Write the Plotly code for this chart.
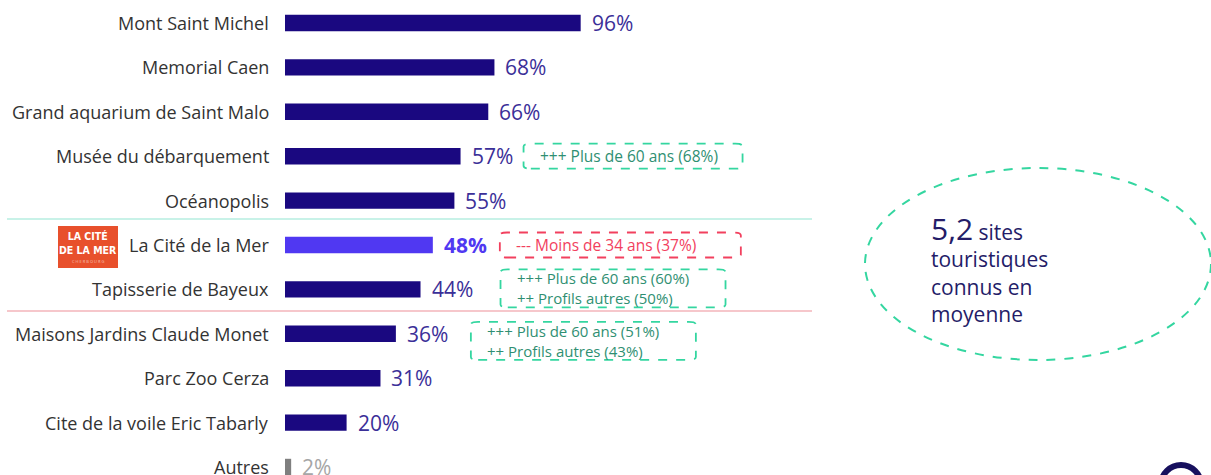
import plotly.graph_objects as go

# data, top to bottom
sites = ["Mont Saint Michel", "Memorial Caen", "Grand aquarium de Saint Malo",
         "Musée du débarquement", "Océanopolis", "La Cité de la Mer",
         "Tapisserie de Bayeux", "Maisons Jardins Claude Monet", "Parc Zoo Cerza",
         "Cite de la voile Eric Tabarly", "Autres"]
scores = [96, 68, 66, 57, 55, 48, 44, 36, 31, 20, 2]
highlight = "La Cité de la Mer"
others = "Autres"

# callouts next to some bars
callout_site = ["Musée du débarquement", "La Cité de la Mer",
                "Tapisserie de Bayeux", "Maisons Jardins Claude Monet"]
callout_text = ["+++ Plus de 60 ans (68%)", "--- Moins de 34 ans (37%)",
                "+++ Plus de 60 ans (60%)<br>++ Profils autres (50%)",
                "+++ Plus de 60 ans (51%)<br>++ Profils autres (43%)"]
callout_kind = ["up", "down", "up", "up"]

avg_sites = "5,2"

NAVY = "#1a0880"
HL = "#5038f2"
GREEN = "#34d6a0"
RED = "#f2405e"
FONT = "Open Sans"

bar_colors = [HL if s == highlight else ("#7f7f7f" if s == others else NAVY) for s in sites]
txt_colors = [HL if s == highlight else ("#a6a6a6" if s == others else "#3b2f98") for s in sites]

fig = go.Figure()
fig.add_trace(go.Bar(
    x=scores, y=sites, orientation="h",
    marker=dict(color=bar_colors, line=dict(width=0)),
    width=0.37, hoverinfo="skip",
))

# category labels left of the bars, value labels right of them
for s, v, c in zip(sites, scores, txt_colors):
    fig.add_annotation(x=0, y=s, text=s, xanchor="right", showarrow=False,
                       xshift=-14, font=dict(family=FONT, size=18, color="#333333"))
    lab = f"<b>{v}%</b>" if s == highlight else f"{v}%"
    fig.add_annotation(x=v, y=s, text=lab, xanchor="left", showarrow=False,
                       xshift=9, font=dict(family=FONT, size=21, color=c))

px = 3.08  # px per percent
W, H = 1211, 475

def rounded_box(x0, x1, y0, y1, r):
    return (f"M {x0+r},{y0} L {x1-r},{y0} Q {x1},{y0} {x1},{y0+r} "
            f"L {x1},{y1-r} Q {x1},{y1} {x1-r},{y1} L {x0+r},{y1} "
            f"Q {x0},{y1} {x0},{y1-r} L {x0},{y0+r} Q {x0},{y0} {x0+r},{y0} Z")

# placement of each callout box: gap after bar end, box width, vertical shift (px)
box_gap = [63, 67, 80, 75]
box_w = [219, 241, 225, 225]
box_dy = [0, 0, -1, 7]

for j, (s, t, k) in enumerate(zip(callout_site, callout_text, callout_kind)):
    i = sites.index(s)
    v = scores[i]
    two = "<br>" in t
    col = GREEN if k == "up" else RED
    tcol = "#2f8f72" if k == "up" else RED
    left = 285 + v * px + box_gap[j]
    cy = 23 + 44.4 * i + box_dy[j]
    hh = 19 if two else 12.5
    fig.add_shape(type="path", xref="paper", yref="paper",
                  path=rounded_box(left / W, (left + box_w[j]) / W,
                                   1 - (cy + hh) / H, 1 - (cy - hh) / H, 0.006),
                  line=dict(color=col, width=1.8, dash="dash"))
    fig.add_annotation(xref="paper", yref="paper", x=(left + 14) / W,
                       y=1 - cy / H,
                       text=t, xanchor="left", yanchor="middle", align="left",
                       showarrow=False,
                       font=dict(family=FONT, size=15 if two else 15.5, color=tcol))

# separators around La Cité de la Mer
fig.add_shape(type="line", xref="paper", yref="paper", x0=7 / W, x1=812 / W,
              y0=1 - 219 / H, y1=1 - 219 / H, line=dict(color="#b6eee0", width=1.5))
fig.add_shape(type="line", xref="paper", yref="paper", x0=7 / W, x1=812 / W,
              y0=1 - 311 / H, y1=1 - 311 / H, line=dict(color="#ee8f98", width=1.2))

# logo
fig.add_shape(type="rect", xref="paper", yref="paper", x0=58 / W, x1=118 / W,
              y0=1 - 268 / H, y1=1 - 226 / H, fillcolor="#e8502c", line=dict(width=0))
fig.add_annotation(xref="paper", yref="paper", x=88 / W, y=1 - 243 / H,
                   text="<b>LA CITÉ<br>DE LA MER</b>", showarrow=False,
                   xanchor="center", yanchor="middle",
                   font=dict(family="DejaVu Sans Condensed", size=10.5, color="white"))
fig.add_annotation(xref="paper", yref="paper", x=88 / W, y=1 - 261 / H,
                   text="C H E R B O U R G", showarrow=False, xanchor="center",
                   font=dict(family=FONT, size=4, color="#f6c2b2"), yanchor="middle")

# average ellipse
fig.add_shape(type="circle", xref="paper", yref="paper",
              x0=865 / W, x1=1211 / W, y0=1 - 360 / H, y1=1 - 168 / H,
              line=dict(color=GREEN, width=2, dash="dash"))
fig.add_annotation(xref="paper", yref="paper", x=929 / W, y=1 - 268 / H,
                   text=f"<span style='font-size:30px'>{avg_sites}</span> sites<br>"
                        "touristiques<br>connus en<br>moyenne",
                   xanchor="left", yanchor="middle", showarrow=False, align="left",
                   font=dict(family=FONT, size=21, color="#241c68"))

# partial ring bottom right
fig.add_shape(type="circle", xref="paper", yref="paper",
              x0=1161 / W, x1=1201 / W, y0=1 - 505 / H, y1=1 - 465 / H,
              line=dict(color="#17105e", width=6))

fig.update_xaxes(range=[-285 / px, (W - 285) / px], visible=False, fixedrange=True)
fig.update_yaxes(range=[-0.518 + H / 44.4, -0.518], visible=False, type="category",
                 categoryorder="array", categoryarray=sites)
fig.update_layout(width=W, height=H, margin=dict(l=0, r=0, t=0, b=0),
                  paper_bgcolor="white", plot_bgcolor="white", showlegend=False,
                  bargap=0.6)
fig.write_html("out.html", config={"displayModeBar": False},
               post_script="document.body.style.margin='0';document.body.style.overflow='hidden';")
